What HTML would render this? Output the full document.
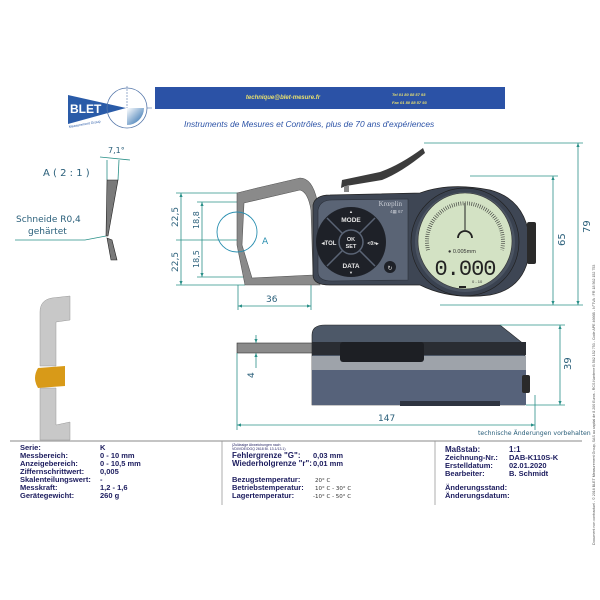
<!DOCTYPE html>
<html><head><meta charset="utf-8"><style>
html,body{margin:0;padding:0;background:#fff;}
svg{display:block;font-family:"Liberation Sans",sans-serif;}
.t{font-weight:bold;fill:#1c1c5e;}
.d{font-family:"DejaVu Sans",sans-serif;fill:#2a5f7a;}
.dim{stroke:#2a9088;stroke-width:0.8;fill:none;}
</style></head><body>
<svg width="600" height="600" viewBox="0 0 600 600" xmlns="http://www.w3.org/2000/svg">
<defs>
<marker id="a" markerWidth="6" markerHeight="6" refX="5" refY="3" orient="auto-start-reverse"><path d="M0,1 L5,3 L0,5Z" fill="#2a9088"/></marker>
<linearGradient id="lg" x1="0" y1="0" x2="1" y2="1"><stop offset="0" stop-color="#fff"/><stop offset="1" stop-color="#1d63a8"/></linearGradient>
</defs>
<!-- header -->
<polygon points="68,95 126,108 68,124" fill="#2a5ba8"/>
<text x="70" y="113" font-size="12" font-weight="bold" fill="#fff">BLET</text>
<text x="69" y="128" font-size="3.5" fill="#2a5ba8" transform="rotate(-10 69 128)">Measurement Group</text>
<circle cx="127" cy="108" r="20" fill="none" stroke="#5577aa" stroke-width="0.8"/>
<path d="M127,108 L144,108 A17,17 0 0 1 127,125Z" fill="url(#lg)"/>
<line x1="127" y1="86" x2="127" y2="108" stroke="#5577aa" stroke-dasharray="2,1" stroke-width="0.6"/>
<line x1="147" y1="108" x2="152" y2="108" stroke="#5577aa" stroke-width="0.6"/>
<rect x="155" y="87" width="350" height="22" fill="#2b52a6"/>
<text x="283" y="99" font-size="6" font-style="italic" font-weight="bold" fill="#e8e070" text-anchor="middle">technique@blet-mesure.fr</text>
<text x="392" y="96" font-size="4" font-style="italic" font-weight="bold" fill="#e8e070">Tel  01 80 88 57 93</text>
<text x="392" y="104" font-size="4" font-style="italic" font-weight="bold" fill="#e8e070">Fax 01 80 88 57 93</text>
<text x="184" y="127" font-size="8.4" font-style="italic" fill="#2b52a6">Instruments de Mesures et Contrôles, plus de 70 ans d'expériences</text>

<!-- detail A -->
<text x="43" y="176" class="d" style="font-size:10px">A ( 2 : 1 )</text>
<text x="108" y="153" class="d" style="font-size:8px">7,1°</text>
<line x1="100" y1="157" x2="130" y2="160" class="dim"/>
<line x1="107" y1="160" x2="107" y2="180" class="dim"/>
<line x1="119" y1="160" x2="118" y2="180" class="dim"/>
<polygon points="107,180 118,180 108,236 106,236" fill="#7a7a7a" stroke="#222" stroke-width="0.6"/>
<polygon points="107,238 112,240 117,260 111,260" fill="#7a7a7a" stroke="#222" stroke-width="0.6"/>
<text x="16" y="222" class="d" style="font-size:9px">Schneide R0,4</text>
<text x="28" y="234" class="d" style="font-size:9px">gehärtet</text>
<polyline points="15,240 85,240 106,236" class="dim"/>

<!-- 3D jaw -->
<path d="M40,312 Q40,300 52,298 L70,296 L70,320 L56,322 L56,366 L40,366Z" fill="#c8c8c8" stroke="#999" stroke-width="0.5"/>
<path d="M40,388 L56,388 L56,425 L70,422 L70,440 L40,440Z" fill="#c8c8c8" stroke="#999" stroke-width="0.5"/>
<path d="M38,368 L65,366 L65,386 L38,388 Q32,378 38,368Z" fill="#d89a18"/>

<!-- front view dims -->
<line x1="181" y1="193" x2="181" y2="285" class="dim" marker-start="url(#a)" marker-end="url(#a)"/>
<line x1="202" y1="202" x2="202" y2="277" class="dim" marker-start="url(#a)" marker-end="url(#a)"/>
<line x1="176" y1="193" x2="240" y2="193" class="dim"/>
<line x1="176" y1="285" x2="245" y2="285" class="dim"/>
<line x1="197" y1="202" x2="243" y2="202" class="dim"/>
<line x1="197" y1="277" x2="248" y2="277" class="dim"/>
<line x1="176" y1="240" x2="240" y2="240" class="dim"/>
<text class="d" style="font-size:9px" transform="translate(178 227) rotate(-90)">22,5</text>
<text class="d" style="font-size:9px" transform="translate(178 272) rotate(-90)">22,5</text>
<text class="d" style="font-size:8px" transform="translate(199 229) rotate(-90)">18,8</text>
<text class="d" style="font-size:8px" transform="translate(199 268) rotate(-90)">18,5</text>
<line x1="238" y1="306" x2="311" y2="306" class="dim" marker-start="url(#a)" marker-end="url(#a)"/>
<line x1="238" y1="285" x2="238" y2="310" class="dim"/>
<line x1="311" y1="285" x2="311" y2="310" class="dim"/>
<text x="266" y="302" class="d" style="font-size:9px">36</text>

<!-- frame -->
<path d="M237,193 L257,188 L300,178 Q312,178 317,200 L320,285 L245,285 L237,245Z" fill="#8a8a8a" stroke="#555" stroke-width="0.6"/>
<path d="M244,203 L300,190 Q308,192 311,210 L313,275 L252,278 L242,245Z" fill="#fff" stroke="#555" stroke-width="0.6"/>
<circle cx="237" cy="232" r="20" fill="none" stroke="#2a8fb0" stroke-width="0.9"/>
<text x="262" y="244" class="d" style="font-size:9px;fill:#2a8fb0">A</text>
<!-- lever -->
<path d="M341,188 L342,180 L380,172 Q400,165 423,148 L425,153 Q402,172 382,180 L346,186Z" fill="#3c3c3c"/>
<rect x="344" y="186" width="5" height="6" fill="#888"/>
<!-- body -->
<path d="M313,205 Q315,195 330,195 L420,193 Q450,182 490,190 Q528,200 530,245 Q528,288 490,295 Q450,300 420,285 L330,285 Q313,285 313,275Z" fill="#3e4654" stroke="#222" stroke-width="0.7"/>
<rect x="527" y="222" width="9" height="42" rx="2" fill="#2a2a2a"/>
<path d="M318,210 Q320,200 332,200 L408,199 L408,280 L332,281 Q318,281 318,272Z" fill="#5a6475" stroke="#2a2f38" stroke-width="0.6"/>
<circle cx="351" cy="242" r="35" fill="#1e2128"/>
<line x1="327" y1="218" x2="375" y2="266" stroke="#5a6475" stroke-width="1.5"/>
<line x1="375" y1="218" x2="327" y2="266" stroke="#5a6475" stroke-width="1.5"/>
<circle cx="351" cy="242" r="12" fill="#1e2128" stroke="#5a6475" stroke-width="1.5"/>
<g fill="#e6e6e6" font-weight="bold" text-anchor="middle" font-size="6.5">
<text x="351" y="222">MODE</text><text x="351" y="268">DATA</text>
<text x="351" y="241" font-size="5.5">OK</text><text x="351" y="248" font-size="5.5">SET</text>
<text x="329" y="245" font-size="6">◂TOL</text><text x="373" y="245" font-size="5">&lt;0&gt;▸</text>
<text x="351" y="213" font-size="4">▲</text><text x="351" y="274" font-size="4">▼</text>
</g>
<circle cx="390" cy="267" r="6" fill="#1e2128"/>
<text x="390" y="270" font-size="6" fill="#ddd" text-anchor="middle">↻</text>
<text x="402" y="206" font-family="Liberation Serif,serif" font-size="7" fill="#c8ccd4" text-anchor="end">Krœplin</text>
<text x="403" y="213" font-size="4.5" fill="#c8ccd4" text-anchor="end">4▦ 67</text>
<circle cx="465" cy="242" r="54" fill="#3a4250" stroke="#222" stroke-width="0.7"/>
<circle cx="465" cy="242" r="50" fill="#4b5462"/>
<ellipse cx="465" cy="241" rx="47" ry="48" fill="#d3e2c4" stroke="#333" stroke-width="0.6"/>
<path d="M428,250 A38,38 0 1 1 502,250" fill="none" stroke="#333" stroke-width="4" stroke-dasharray="0.6,1.6"/>
<line x1="465" y1="203" x2="465" y2="230" stroke="#222" stroke-width="1"/>
<path d="M458,238 A7,7 0 0 1 472,238" fill="none" stroke="#222" stroke-width="1.8"/>
<text x="448" y="253" font-size="5.5" fill="#333">● 0.005mm</text>
<text x="465" y="275" font-family="Liberation Mono,monospace" font-size="22" fill="#222" text-anchor="middle" letter-spacing="-1">0.000</text>
<text x="472" y="283" font-size="4" fill="#333">0 - 10</text>
<rect x="459" y="286" width="7" height="2" fill="#222"/>

<!-- right dims -->
<line x1="553" y1="176" x2="553" y2="305" class="dim" marker-start="url(#a)" marker-end="url(#a)"/>
<line x1="578" y1="143" x2="578" y2="305" class="dim" marker-start="url(#a)" marker-end="url(#a)"/>
<line x1="470" y1="176" x2="558" y2="176" class="dim"/>
<line x1="424" y1="143" x2="583" y2="143" class="dim"/>
<line x1="440" y1="305" x2="583" y2="305" class="dim"/>
<text class="d" style="font-size:10px" transform="translate(565 246) rotate(-90)">65</text>
<text class="d" style="font-size:10px" transform="translate(590 233) rotate(-90)">79</text>

<!-- side view -->
<rect x="237" y="343" width="88" height="10" fill="#8a8a8a" stroke="#333" stroke-width="0.6"/>
<path d="M312,335 Q312,325 325,325 L500,325 L525,345 L525,405 L312,405Z" fill="#4d5868" stroke="#222" stroke-width="0.6"/>
<rect x="312" y="342" width="214" height="13" fill="#2a2d33"/>
<rect x="312" y="356" width="214" height="14" fill="#9ea3aa"/>
<rect x="312" y="370" width="214" height="35" fill="#56627a"/>
<rect x="340" y="342" width="84" height="20" rx="3" fill="#1d1f24"/>
<rect x="400" y="401" width="100" height="5" fill="#2e3440"/>
<rect x="522" y="375" width="8" height="18" rx="2" fill="#2a2a2a"/>
<line x1="256" y1="335" x2="256" y2="343" class="dim" marker-end="url(#a)"/>
<line x1="256" y1="368" x2="256" y2="353" class="dim" marker-end="url(#a)"/>
<text class="d" style="font-size:9px" transform="translate(254 378) rotate(-90)">4</text>
<line x1="237" y1="425" x2="535" y2="425" class="dim" marker-start="url(#a)" marker-end="url(#a)"/>
<line x1="237" y1="353" x2="237" y2="430" class="dim"/>
<line x1="535" y1="395" x2="535" y2="430" class="dim"/>
<text x="378" y="421" class="d" style="font-size:9px">147</text>
<line x1="560" y1="325" x2="560" y2="405" class="dim" marker-start="url(#a)" marker-end="url(#a)"/>
<line x1="500" y1="325" x2="565" y2="325" class="dim"/>
<line x1="526" y1="405" x2="565" y2="405" class="dim"/>
<text class="d" style="font-size:10px" transform="translate(571 370) rotate(-90)">39</text>
<text x="478" y="435" class="d" style="font-size:6.2px">technische Änderungen vorbehalten</text>

<!-- table -->
<line x1="10" y1="441" x2="582" y2="441" stroke="#888" stroke-width="1"/>
<line x1="222" y1="441" x2="222" y2="505" stroke="#999" stroke-width="0.8"/>
<line x1="435" y1="441" x2="435" y2="505" stroke="#999" stroke-width="0.8"/>
<g class="t" style="font-size:7.5px">
<text x="20" y="450">Serie:</text><text x="100" y="450">K</text>
<text x="20" y="458">Messbereich:</text><text x="100" y="458">0 - 10 mm</text>
<text x="20" y="466">Anzeigebereich:</text><text x="100" y="466">0 - 10,5 mm</text>
<text x="20" y="474">Ziffernschrittwert:</text><text x="100" y="474">0,005</text>
<text x="20" y="482">Skalenteilungswert:</text><text x="100" y="482">-</text>
<text x="20" y="490">Messkraft:</text><text x="100" y="490">1,2 - 1,6</text>
<text x="20" y="498">Gerätegewicht:</text><text x="100" y="498">260 g</text>
<text x="232" y="446" style="font-size:3.5px;font-weight:normal">(Zulässige Abweichungen nach</text>
<text x="232" y="450" style="font-size:3.5px;font-weight:normal">VDI/VDE/DGQ 2618 Bl. 13.1/13.1)</text>
<text x="232" y="458" style="font-size:8px">Fehlergrenze "G":</text><text x="313" y="458">0,03 mm</text>
<text x="232" y="466" style="font-size:8px">Wiederholgrenze "r":</text><text x="313" y="466">0,01 mm</text>
<text x="232" y="482">Bezugstemperatur:</text>
<text x="232" y="490">Betriebstemperatur:</text>
<text x="232" y="498">Lagertemperatur:</text>
<text x="445" y="452" style="font-size:8px">Maßstab:</text><text x="509" y="452" style="font-size:8px">1:1</text>
<text x="445" y="460">Zeichnung-Nr.:</text><text x="509" y="460">DAB-K110S-K</text>
<text x="445" y="468">Erstelldatum:</text><text x="509" y="468">02.01.2020</text>
<text x="445" y="476">Bearbeiter:</text><text x="509" y="476">B. Schmidt</text>
<text x="445" y="490">Änderungsstand:</text>
<text x="445" y="498">Änderungsdatum:</text>
</g>
<g font-family="DejaVu Sans,sans-serif" font-size="5.5" fill="#333">
<text x="315" y="482">20° C</text><text x="315" y="490">10° C - 30° C</text><text x="313" y="498">-10° C - 50° C</text>
</g>
<text transform="translate(595 545) rotate(-90)" font-size="3.6" fill="#555">Document non contractuel - © 2016 BLET Measurement Group, SAS au capital de 8 200 Euros - RCS Nanterre B 562 152 753 - Code APE 4666B - N°TVA : FR 18 562 152 753</text>
</svg>
</body></html>
